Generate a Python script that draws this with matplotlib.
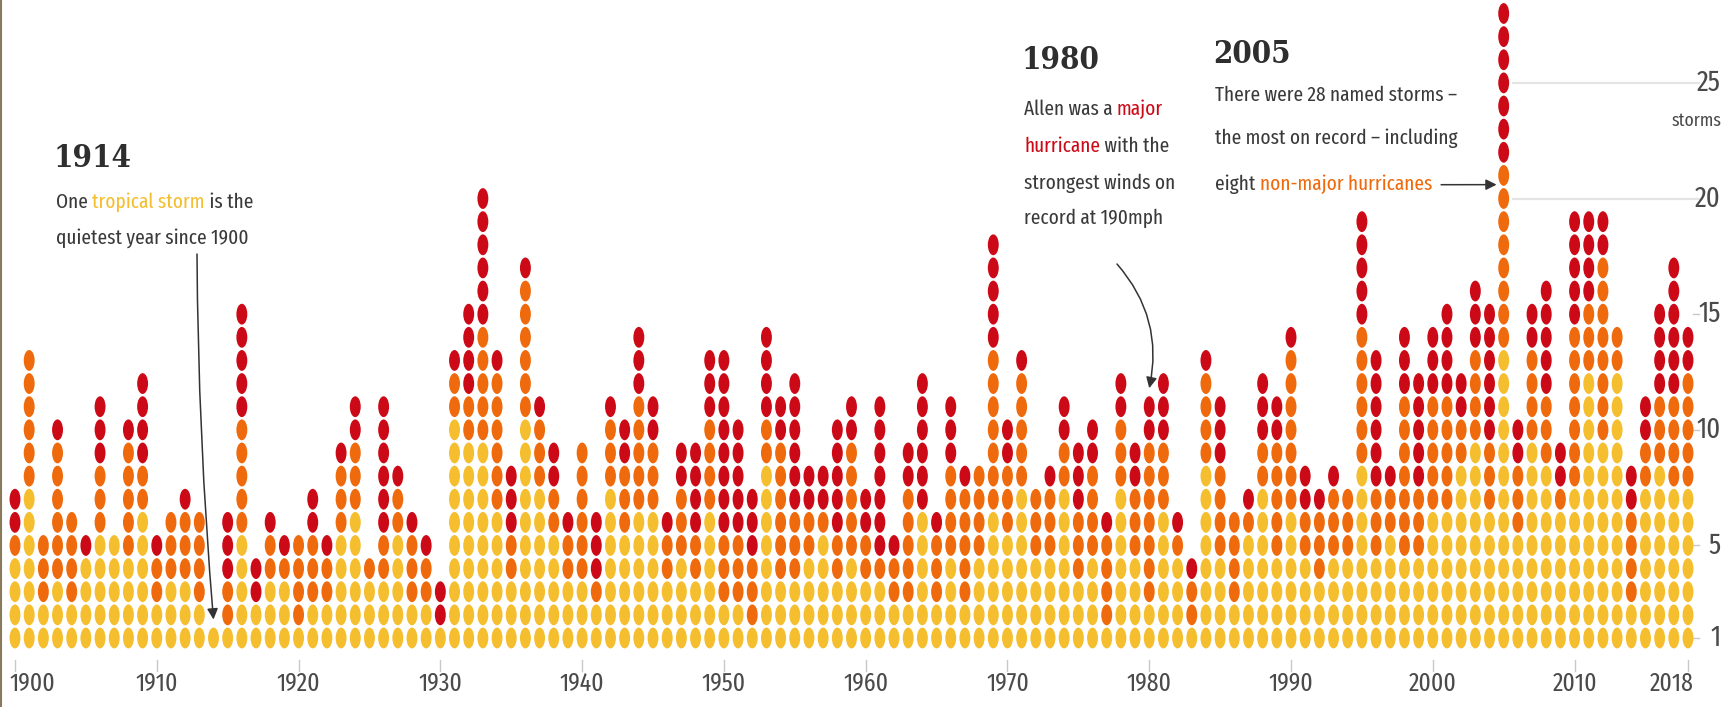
import os
import matplotlib
matplotlib.use("Agg")
import matplotlib.pyplot as plt
from matplotlib import font_manager as fm
from matplotlib.font_manager import FontProperties
from matplotlib.textpath import TextPath
from matplotlib.patches import Ellipse
from matplotlib.collections import PatchCollection
from matplotlib.lines import Line2D

# ---------------- data ----------------
years = list(range(1900, 2019))
tropical = [4, 7, 2, 3, 2, 4, 5, 5, 4, 6,
            2, 3, 3, 2, 1, 1, 5, 2, 3, 3,
            1, 2, 2, 5, 6, 3, 3, 5, 2, 2,
            1, 10, 9, 9, 6, 3, 10, 7, 5, 3,
            3, 2, 7, 5, 6, 6, 3, 4, 3, 6,
            2, 2, 1, 8, 3, 3, 4, 5, 3, 4,
            3, 3, 2, 2, 6, 2, 4, 2, 4, 6,
            5, 7, 4, 4, 7, 3, 4, 1, 7, 4,
            2, 6, 4, 1, 8, 4, 2, 5, 7, 4,
            6, 4, 3, 4, 4, 8, 4, 5, 4, 4,
            6, 6, 8, 9, 6, 13, 5, 9, 8, 6,
            7, 12, 9, 12, 2, 7, 8, 7, 7]
nonmajor = [1, 6, 3, 6, 4, 0, 3, 0, 5, 2,
            2, 3, 3, 4, 0, 2, 5, 0, 2, 1,
            4, 3, 2, 3, 3, 1, 2, 2, 3, 2,
            0, 2, 2, 5, 6, 2, 6, 3, 2, 2,
            6, 1, 3, 3, 5, 3, 2, 3, 2, 4,
            3, 3, 3, 2, 6, 3, 2, 1, 2, 5,
            2, 1, 2, 5, 0, 3, 4, 5, 4, 7,
            3, 5, 3, 3, 2, 3, 4, 4, 3, 3,
            7, 3, 1, 2, 4, 4, 4, 1, 2, 5,
            7, 2, 3, 3, 3, 6, 3, 2, 7, 3,
            5, 5, 2, 4, 3, 8, 3, 4, 3, 1,
            7, 3, 8, 2, 4, 2, 3, 4, 5]
major = [2, 0, 0, 1, 0, 1, 3, 0, 1, 4,
         1, 0, 1, 0, 0, 3, 5, 2, 1, 1,
         0, 2, 1, 1, 2, 0, 6, 1, 1, 1,
         2, 1, 4, 6, 1, 3, 1, 1, 2, 1,
         0, 3, 1, 2, 3, 2, 1, 2, 4, 3,
         8, 5, 3, 4, 2, 6, 2, 2, 5, 2,
         2, 7, 1, 2, 6, 1, 3, 1, 0, 5,
         2, 1, 0, 1, 2, 3, 2, 1, 2, 2,
         2, 3, 1, 1, 1, 3, 0, 1, 3, 2,
         1, 2, 1, 1, 0, 5, 6, 1, 3, 5,
         3, 4, 2, 3, 6, 7, 2, 2, 5, 2,
         5, 4, 2, 0, 2, 2, 4, 6, 2]

xtick_years = [1900, 1910, 1920, 1930, 1940, 1950, 1960, 1970, 1980, 1990, 2000, 2010, 2018]
ytick_values = [1, 5, 10, 15, 20, 25]
grid_values = [20, 25]

# ---------------- style ----------------
C_Y = "#f5be2e"
C_O = "#ee6a0c"
C_R = "#cc0a17"
TXT = "#3a3a3a"
HEADC = "#2e2e2e"
GREY = "#4a4a4a"


def _w(f):
    x = f.weight
    if isinstance(x, str):
        x = fm.weight_dict.get(x, 400)
    return x


def _tag(f):
    return (f.name + " " + os.path.basename(f.fname)).lower().replace(" ", "").replace("-", "")


def pick_font(bold, serif_first=False):
    tiers = ["extracondensed", "condensed", "narrow", "semicondensed"]
    target_w = 700 if bold else 400
    fonts = [f for f in fm.fontManager.ttflist if f.style == "normal" and "mono" not in _tag(f)]
    fonts = [f for f in fonts if (_w(f) >= 600) == bold]
    groups = []
    if serif_first:
        groups.append([f for f in fonts if "serif" in _tag(f)])
    groups.append([f for f in fonts if "serif" not in _tag(f) and "cjk" not in _tag(f)])
    for grp in groups:
        for tier in tiers:
            cands = []
            for f in grp:
                t = _tag(f)
                if tier in t and "ultra" not in t and not (
                        tier == "condensed" and ("semicondensed" in t or "extracondensed" in t)):
                    cands.append(f)
            if cands:
                cands.sort(key=lambda f: abs(_w(f) - target_w))
                if abs(_w(cands[0]) - target_w) <= 100:
                    return FontProperties(fname=cands[0].fname)
    fam = ["DejaVu Serif"] if serif_first else ["DejaVu Sans"]
    return FontProperties(family=fam, weight="bold" if bold else "normal")


BODY = pick_font(False)
HEAD = pick_font(True, serif_first=True)

W, H = 1734, 707
fig = plt.figure(figsize=(W / 100, H / 100), dpi=100)
ax = fig.add_axes([0, 0, 1, 1])
ax.axis("off")
renderer = fig.canvas.get_renderer()


def fprop(base, size):
    p = base.copy()
    p.set_size(size)
    return p


def fit_width(s, base, target, ref=20.0):
    t = fig.text(0, 0, s, fontproperties=fprop(base, ref))
    w = t.get_window_extent(renderer).width
    t.remove()
    return ref * target / w


def fit_height(s, base, target_px):
    ext = TextPath((0, 0), s, size=100, prop=base).get_extents()
    size_px = 100 * target_px / ext.height
    return size_px * 72 / 100


S_BODY = min(fit_width("One tropical storm is the", BODY, 196), fit_height("One", BODY, 19))
S_HEAD = min(fit_height("1914", HEAD, 35), fit_width("1914", HEAD, 78))
S_TICK = fit_height("1910", BODY, 18)
S_RIGHT = fit_height("25", BODY, 20)
S_UNIT = fit_width("storms", BODY, 50)

# pixel mapping: year 1900 -> x=15 px, 14.178 px per year; storm 1 -> y=638 px from top, 23.13 px per storm
px_year = 14.178
px_storm = 23.13
ax.set_xlim(1900 - 15 / px_year, 1900 + (W - 15) / px_year)
ax.set_ylim(1 - (H - 638) / px_storm, 1 + 638 / px_storm)


def fp(x, y):
    """pixel coords measured from top-left -> figure fraction"""
    return x / W, 1 - y / H


# ---------------- dots ----------------
patches, colors = [], []
for yr, t, n, m in zip(years, tropical, nonmajor, major):
    total = t + n + m
    for k in range(total):
        c = C_Y if k < t else (C_O if k < t + n else C_R)
        patches.append(Ellipse((yr, k + 1), 0.77, 0.9))
        colors.append(c)
ax.add_collection(PatchCollection(patches, facecolors=colors, edgecolors="none", zorder=3))

# ---------------- gridlines & right axis ----------------
for g in grid_values:
    ax.plot([2005.6, 2018.85], [g, g], color="#e4e4e4", lw=1.6, zorder=1, solid_capstyle="butt")
for v in ytick_values:
    if v not in grid_values:
        ax.plot([2018.35, 2018.8], [v, v], color="#c8c8c8", lw=1.0, zorder=1)
    ypx = 638 - (v - 1) * px_storm
    fig.text(*fp(1721, ypx), str(v), ha="right", va="center", color=GREY,
             fontproperties=fprop(BODY, S_RIGHT))
fig.text(*fp(1722, 121), "storms", ha="right", va="center", color=GREY,
         fontproperties=fprop(BODY, S_UNIT))

# ---------------- x ticks ----------------
for yr in xtick_years:
    ax.plot([yr, yr], [0.05, -0.43], color="#c8c8c8", lw=1.0)
    xpx = 15 + (yr - 1900) * px_year
    if yr == 1900:
        x0, ha = 9, "left"
    elif yr == 2018:
        x0, ha = 1694, "right"
    else:
        x0, ha = xpx, "center"
    fig.text(*fp(x0, 684), str(yr), ha=ha, va="center", color=GREY,
             fontproperties=fprop(BODY, S_TICK))


# ---------------- annotations ----------------
def rich(x, y, parts):
    t = fig.text(*fp(x, y), parts[0][0], color=parts[0][1], va="center", ha="left",
                 fontproperties=fprop(BODY, S_BODY))
    for s, c in parts[1:]:
        t = ax.annotate(s, xy=(1, 0), xycoords=t, va="bottom", ha="left", color=c,
                        fontproperties=fprop(BODY, S_BODY))
    return t


def heading(x, y, s):
    fig.text(*fp(x, y), s, ha="left", va="baseline", color=HEADC,
             fontproperties=fprop(HEAD, S_HEAD))


ARROW = dict(arrowstyle="-|>", color="#333333", lw=1.1, mutation_scale=16, shrinkA=0, shrinkB=0)

# 1914
heading(54, 167, "1914")
rich(56, 202, [("One ", TXT), ("tropical storm", C_Y), (" is the", TXT)])
rich(56, 238, [("quietest year since 1900", TXT)])
ax.annotate("", xy=(1914, 1.8), xycoords="data", xytext=(197, H - 254), textcoords="figure pixels",
            arrowprops=dict(ARROW, connectionstyle="arc3,rad=0.02"))

# 1980
heading(1022, 69, "1980")
rich(1024, 109, [("Allen was a ", TXT), ("major", C_R)])
rich(1024, 146, [("hurricane", C_R), (" with the", TXT)])
rich(1024, 183, [("strongest winds on", TXT)])
rich(1024, 218, [("record at 190mph", TXT)])
ax.annotate("", xy=(1980, 11.8), xycoords="data", xytext=(1117, H - 264), textcoords="figure pixels",
            arrowprops=dict(ARROW, connectionstyle="arc3,rad=-0.25"))

# 2005
heading(1213, 63, "2005")
rich(1215, 95, [("There were 28 named storms \u2013", TXT)])
rich(1215, 138, [("the most on record \u2013 including", TXT)])
last = rich(1215, 184, [("eight ", TXT), ("non-major hurricanes", C_O)])
fig.canvas.draw()
x_end = last.get_window_extent(renderer).x1
ax.annotate("", xy=(2004.5, 20.6), xycoords="data", xytext=(x_end + 9, H - 184.7), textcoords="figure pixels",
            arrowprops=ARROW)

# left border
fig.add_artist(Line2D([0.6 / W, 0.6 / W], [0, 1], transform=fig.transFigure, color="#8a7a5c", lw=1.5))

fig.savefig("out.png", dpi=100, facecolor="white")
